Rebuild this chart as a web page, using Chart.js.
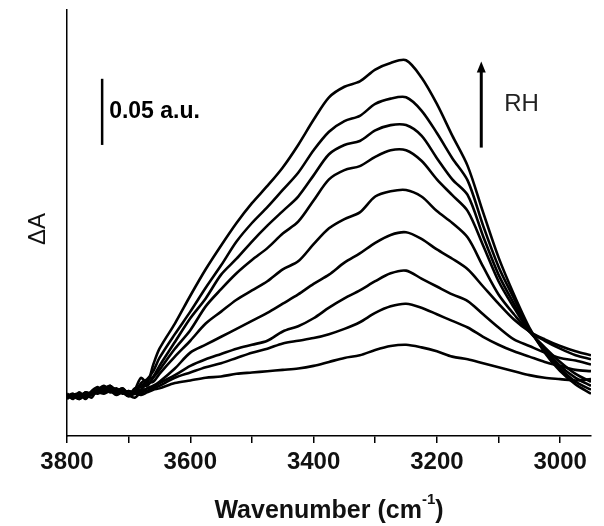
<!DOCTYPE html>
<html>
<head>
<meta charset="utf-8">
<script src="https://cdn.jsdelivr.net/npm/chart.js@4.4.1/dist/chart.umd.min.js"></script>
<style>
  html, body { margin: 0; padding: 0; background: #fff; }
  #wrap { width: 604px; height: 526px; position: relative; }
</style>
</head>
<body>
<div id="wrap"><canvas id="chart"></canvas></div>
<script>
// wavenumbers (cm-1), fine steps over the noisy baseline, then every 25
const wavenumbers = [3800, 3790, 3780, 3770, 3760, 3750, 3740, 3730, 3720, 3710, 3700, 3690, 3680, 3670, 3660,
  3650, 3625, 3600, 3575, 3550, 3525, 3500, 3475, 3450, 3425, 3400, 3375, 3350, 3325, 3300,
  3275, 3250, 3225, 3200, 3175, 3150, 3125, 3100, 3075, 3050, 3025, 3000, 2975, 2950];

// delta absorbance (a.u.), lowest RH first
const absRH1 = [0.000, -0.001, 0.001, -0.001, 0.002, 0.003, 0.002, 0.004, 0.001, 0.003, 0.000, 0.002, 0.001, 0.003, 0.005,
  0.006, 0.010, 0.012, 0.014, 0.015, 0.017, 0.018, 0.019, 0.020, 0.021, 0.023, 0.026, 0.029, 0.031, 0.035,
  0.038, 0.039, 0.037, 0.034, 0.030, 0.028, 0.025, 0.022, 0.019, 0.016, 0.014, 0.013, 0.012, 0.013];
const absRH2 = [0.001, 0.000, -0.002, 0.001, 0.003, 0.002, 0.005, 0.004, 0.002, 0.004, 0.001, -0.001, 0.003, 0.004, 0.006,
  0.008, 0.014, 0.018, 0.022, 0.025, 0.029, 0.033, 0.036, 0.040, 0.042, 0.044, 0.047, 0.051, 0.056, 0.063,
  0.068, 0.070, 0.067, 0.062, 0.057, 0.052, 0.045, 0.039, 0.034, 0.030, 0.026, 0.023, 0.020, 0.019];
const absRH3 = [-0.002, 0.001, 0.000, 0.002, 0.001, 0.004, 0.006, 0.003, 0.005, 0.003, 0.000, 0.003, 0.002, 0.006, 0.007,
  0.010, 0.016, 0.023, 0.028, 0.032, 0.036, 0.039, 0.042, 0.049, 0.053, 0.059, 0.067, 0.074, 0.080, 0.087,
  0.093, 0.095, 0.089, 0.083, 0.077, 0.072, 0.062, 0.052, 0.043, 0.038, 0.033, 0.029, 0.027, 0.024];
const absRH4 = [0.001, -0.001, 0.002, 0.000, 0.003, 0.005, 0.004, 0.006, 0.002, 0.004, 0.001, 0.002, 0.004, 0.006, 0.008,
  0.011, 0.021, 0.033, 0.039, 0.045, 0.051, 0.057, 0.063, 0.070, 0.077, 0.085, 0.092, 0.101, 0.108, 0.116,
  0.122, 0.124, 0.119, 0.111, 0.104, 0.096, 0.083, 0.070, 0.058, 0.049, 0.043, 0.038, 0.034, 0.031];
const absRH5 = [0.000, 0.001, -0.001, 0.003, 0.002, 0.003, 0.007, 0.005, 0.004, 0.006, 0.002, 0.004, 0.005, 0.010, 0.011,
  0.017, 0.030, 0.042, 0.055, 0.064, 0.073, 0.080, 0.087, 0.096, 0.102, 0.115, 0.127, 0.134, 0.139, 0.151,
  0.155, 0.156, 0.151, 0.140, 0.131, 0.120, 0.098, 0.077, 0.062, 0.049, 0.042, 0.036, 0.031, 0.028];
const absRH6 = [0.002, -0.001, 0.001, 0.002, -0.001, 0.006, 0.004, 0.007, 0.005, 0.002, 0.004, 0.002, 0.009, 0.008, 0.014,
  0.020, 0.036, 0.050, 0.068, 0.081, 0.093, 0.103, 0.112, 0.123, 0.132, 0.148, 0.164, 0.171, 0.174, 0.181,
  0.186, 0.186, 0.178, 0.164, 0.152, 0.140, 0.114, 0.087, 0.067, 0.049, 0.037, 0.026, 0.017, 0.011];
const absRH7 = [-0.001, 0.001, 0.002, -0.002, 0.003, 0.004, 0.006, 0.008, 0.003, 0.005, 0.001, 0.006, 0.007, 0.012, 0.015,
  0.023, 0.041, 0.059, 0.074, 0.092, 0.104, 0.117, 0.129, 0.140, 0.151, 0.167, 0.183, 0.190, 0.193, 0.201,
  0.205, 0.205, 0.197, 0.180, 0.164, 0.152, 0.121, 0.092, 0.070, 0.050, 0.036, 0.023, 0.014, 0.008];
const absRH8 = [0.000, 0.002, -0.002, 0.003, 0.001, 0.005, 0.008, 0.004, 0.006, 0.003, 0.004, 0.003, 0.010, 0.013, 0.019,
  0.029, 0.047, 0.064, 0.082, 0.099, 0.117, 0.131, 0.143, 0.156, 0.169, 0.186, 0.200, 0.208, 0.212, 0.221,
  0.225, 0.226, 0.216, 0.199, 0.180, 0.163, 0.129, 0.098, 0.074, 0.051, 0.034, 0.021, 0.011, 0.005];
const absRH9 = [0.001, -0.002, 0.003, -0.001, 0.004, 0.007, 0.003, 0.008, 0.004, 0.006, 0.002, 0.005, 0.014, 0.010, 0.024,
  0.036, 0.055, 0.076, 0.096, 0.114, 0.131, 0.146, 0.159, 0.173, 0.190, 0.209, 0.226, 0.234, 0.238, 0.247,
  0.252, 0.254, 0.241, 0.221, 0.197, 0.174, 0.139, 0.105, 0.077, 0.052, 0.033, 0.019, 0.009, 0.002];

const spectra = [absRH1, absRH2, absRH3, absRH4, absRH5, absRH6, absRH7, absRH8, absRH9];

// scale bar (0.05 a.u.) and RH arrow, in data units
const scaleBarWn = 3743;
const scaleBarFrom = 0.19;
const scaleBarSize = 0.05;
const arrowWn = 3128;
const arrowFrom = 0.188;
const arrowTo = 0.253;

const FONT = '"Liberation Sans", Arial, sans-serif';

// draws the extra labels, scale bar and arrow
const annotations = {
    id: 'annotations',
    afterDraw(chart) {
        const ctx = chart.ctx;
        const xs = chart.scales.x;
        const ys = chart.scales.y;
        ctx.save();
        ctx.fillStyle = '#000';
        ctx.strokeStyle = '#000';

        // scale bar
        let bx = xs.getPixelForValue(scaleBarWn);
        ctx.lineWidth = 2.5;
        ctx.beginPath();
        ctx.moveTo(bx, ys.getPixelForValue(scaleBarFrom));
        ctx.lineTo(bx, ys.getPixelForValue(scaleBarFrom + scaleBarSize));
        ctx.stroke();
        ctx.font = 'bold 23px ' + FONT;
        ctx.textAlign = 'left';
        ctx.textBaseline = 'middle';
        ctx.fillText('0.05 a.u.', bx + 7, ys.getPixelForValue(scaleBarFrom + scaleBarSize / 2));

        // RH arrow
        let ax = xs.getPixelForValue(arrowWn);
        let aTop = ys.getPixelForValue(arrowTo);
        ctx.lineWidth = 3;
        ctx.beginPath();
        ctx.moveTo(ax, ys.getPixelForValue(arrowFrom));
        ctx.lineTo(ax, aTop + 8);
        ctx.stroke();
        ctx.beginPath();
        ctx.moveTo(ax, aTop);
        ctx.lineTo(ax - 4.5, aTop + 11);
        ctx.lineTo(ax + 4.5, aTop + 11);
        ctx.closePath();
        ctx.fill();
        ctx.font = '24px ' + FONT;
        ctx.fillStyle = '#222';
        ctx.fillText('RH', ax + 23, ys.getPixelForValue((arrowFrom + arrowTo) / 2));

        // y title
        ctx.fillStyle = '#111';
        ctx.font = '24px ' + FONT;
        ctx.translate(38, 229);
        ctx.rotate(-Math.PI / 2);
        ctx.textAlign = 'center';
        ctx.fillText('\u0394A', 0, 0);
        ctx.setTransform(1, 0, 0, 1, 0, 0);

        // x title with superscript
        let cx = (chart.chartArea.left + chart.chartArea.right) / 2;
        let ty = 511;
        let part1 = 'Wavenumber (cm';
        let sup = '-1';
        let part2 = ')';
        ctx.font = 'bold 25px ' + FONT;
        let w1 = ctx.measureText(part1).width;
        let w3 = ctx.measureText(part2).width;
        ctx.font = 'bold 15px ' + FONT;
        let w2 = ctx.measureText(sup).width;
        let x0 = cx - (w1 + w2 + w3) / 2;
        ctx.textAlign = 'left';
        ctx.font = 'bold 25px ' + FONT;
        ctx.fillText(part1, x0, ty);
        ctx.font = 'bold 15px ' + FONT;
        ctx.fillText(sup, x0 + w1, ty - 11);
        ctx.font = 'bold 25px ' + FONT;
        ctx.fillText(part2, x0 + w1 + w2, ty);
        ctx.restore();
    }
};

const datasets = spectra.map(function (vals) {
    return {
        data: wavenumbers.map((w, i) => ({ x: w, y: vals[i] })),
        borderColor: '#000',
        borderWidth: 2.6,
        pointRadius: 0,
        tension: 0.3,
        fill: false
    };
});

new Chart(document.getElementById('chart'), {
    type: 'line',
    data: { datasets: datasets },
    options: {
        responsive: true,
        maintainAspectRatio: false,
        animation: false,
        layout: { padding: { top: 10, right: 13, left: 0, bottom: 0 } },
        plugins: {
            legend: { display: false },
            tooltip: { enabled: false }
        },
        scales: {
            x: {
                type: 'linear',
                reverse: true,
                min: 2950,
                max: 3800,
                border: { display: true, color: '#000', width: 1.5 },
                grid: { drawOnChartArea: false, drawTicks: true, tickLength: 7, color: '#000', lineWidth: 1.5 },
                ticks: {
                    stepSize: 100,
                    includeBounds: false,
                    autoSkip: false,
                    maxRotation: 0,
                    padding: 5,
                    color: '#111',
                    font: { family: FONT, size: 24, weight: 'bold' },
                    callback: v => (v % 200 === 0 ? String(v) : '')
                },
                afterFit: s => { s.height = 90; }
            },
            y: {
                min: -0.030,
                max: 0.292,
                ticks: { display: false },
                grid: { display: false },
                border: { display: true, color: '#000', width: 1.5 },
                afterFit: s => { s.width = 67; }
            }
        }
    },
    plugins: [annotations]
});
</script>
</body>
</html>
